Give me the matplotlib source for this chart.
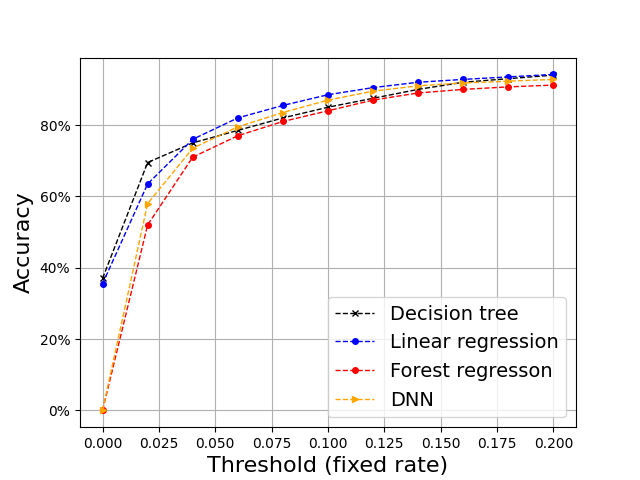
import matplotlib
matplotlib.use("Agg")
import matplotlib.pyplot as plt
from matplotlib.ticker import PercentFormatter

thresholds = [0.0, 0.02, 0.04, 0.06, 0.08, 0.10, 0.12, 0.14, 0.16, 0.18, 0.20]
decision_tree = [37, 69.5, 75, 78.5, 82, 85, 87.5, 90, 92, 93, 94]
linear_reg = [35.5, 63.5, 76, 82, 85.5, 88.5, 90.5, 92, 92.8, 93.5, 94.2]
forest_reg = [0, 52, 71, 77, 81, 84, 87, 89, 90, 90.7, 91.2]
dnn = [0, 58, 73.5, 79.5, 83.5, 87, 89.5, 91, 91.8, 92.3, 92.8]

fig, ax = plt.subplots(figsize=(6.4, 4.8), dpi=100)
ax.plot(thresholds, decision_tree, 'x--', color='black', lw=1, ms=5, label='Decision tree')
ax.plot(thresholds, linear_reg, 'o--', color='blue', lw=1, ms=4, label='Linear regression')
ax.plot(thresholds, forest_reg, 'o--', color='red', lw=1, ms=4, label='Forest regresson')
ax.plot(thresholds, dnn, '>--', color='orange', lw=1, ms=4, label='DNN')
ax.yaxis.set_major_formatter(PercentFormatter(decimals=0))
ax.set_yticks([0, 20, 40, 60, 80])
ax.grid(True)
ax.set_xlabel('Threshold (fixed rate)', fontsize=16)
ax.set_ylabel('Accuracy', fontsize=16)
ax.legend(loc='lower right', fontsize=14)
fig.savefig('out.png')
